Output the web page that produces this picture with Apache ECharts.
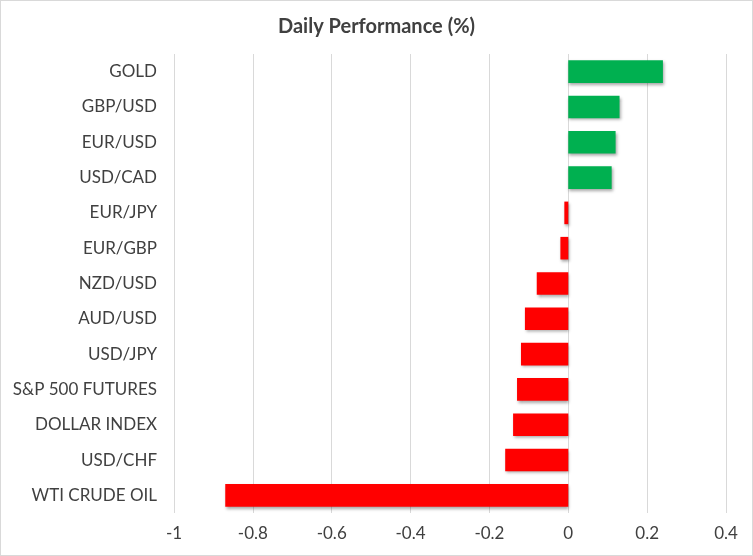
<!DOCTYPE html>
<html>
<head>
<meta charset="utf-8">
<script src="https://cdn.jsdelivr.net/npm/echarts@6/dist/echarts.min.js"></script>
<style>
  html, body { margin: 0; padding: 0; background: #fff; }
  #container1 { width: 751px; height: 554px; border: 1px solid #d9d9d9; }
</style>
</head>
<body>
<div id="container1"></div>
<script>
// 品种
var categories = ['GOLD', 'GBP/USD', 'EUR/USD', 'USD/CAD', 'EUR/JPY', 'EUR/GBP', 'NZD/USD',
    'AUD/USD', 'USD/JPY', 'S&P 500 FUTURES', 'DOLLAR INDEX', 'USD/CHF', 'WTI CRUDE OIL'];
// 日涨跌幅 (%)
var performance = [0.24, 0.13, 0.12, 0.11, -0.01, -0.02, -0.08, -0.11, -0.12, -0.13, -0.14, -0.16, -0.87];
var tickLabels = ['-1', '-0.8', '-0.6', '-0.4', '-0.2', '0', '0.2', '0.4'];

function Chart_Init() {
    var myChart = echarts.init(document.getElementById("container1"));
    var barData = [];
    for (var i = 0; i < performance.length; i++) {
        barData.push({
            value: performance[i],
            itemStyle: { color: performance[i] >= 0 ? '#00B050' : '#FF0000' }
        });
    }
    var option = {
        animation: false,
        textStyle: { fontFamily: 'Lato' },
        title: {
            text: 'Daily Performance (%)',
            left: 'center',
            top: 11,
            textStyle: { fontSize: 20, fontWeight: 'bold', color: '#404040', fontFamily: 'Lato' }
        },
        grid: { left: 173, right: 26, top: 53, bottom: 42, containLabel: false },
        xAxis: {
            type: 'value',
            min: -1,
            max: 0.4,
            interval: 0.2,
            axisLine: { show: false },
            axisTick: { show: false },
            splitLine: { lineStyle: { color: '#d9d9d9', width: 1 } },
            axisLabel: {
                color: '#404040',
                fontSize: 17,
                margin: 12,
                formatter: function (v) {
                    var idx = Math.round((v + 1) / 0.2);
                    return tickLabels[idx];
                }
            }
        },
        yAxis: {
            type: 'category',
            inverse: true,
            data: categories,
            axisLine: { show: false },
            axisTick: { show: false },
            splitLine: { show: false },
            axisLabel: { color: '#404040', fontSize: 17, margin: 17 }
        },
        series: [{
            name: 'Daily Performance',
            type: 'bar',
            barWidth: '64%',
            data: barData,
            itemStyle: {
                shadowColor: 'rgba(0,0,0,0.35)',
                shadowBlur: 3,
                shadowOffsetX: 1,
                shadowOffsetY: 2
            }
        }]
    };
    myChart.setOption(option);
}
Chart_Init();
</script>
</body>
</html>
